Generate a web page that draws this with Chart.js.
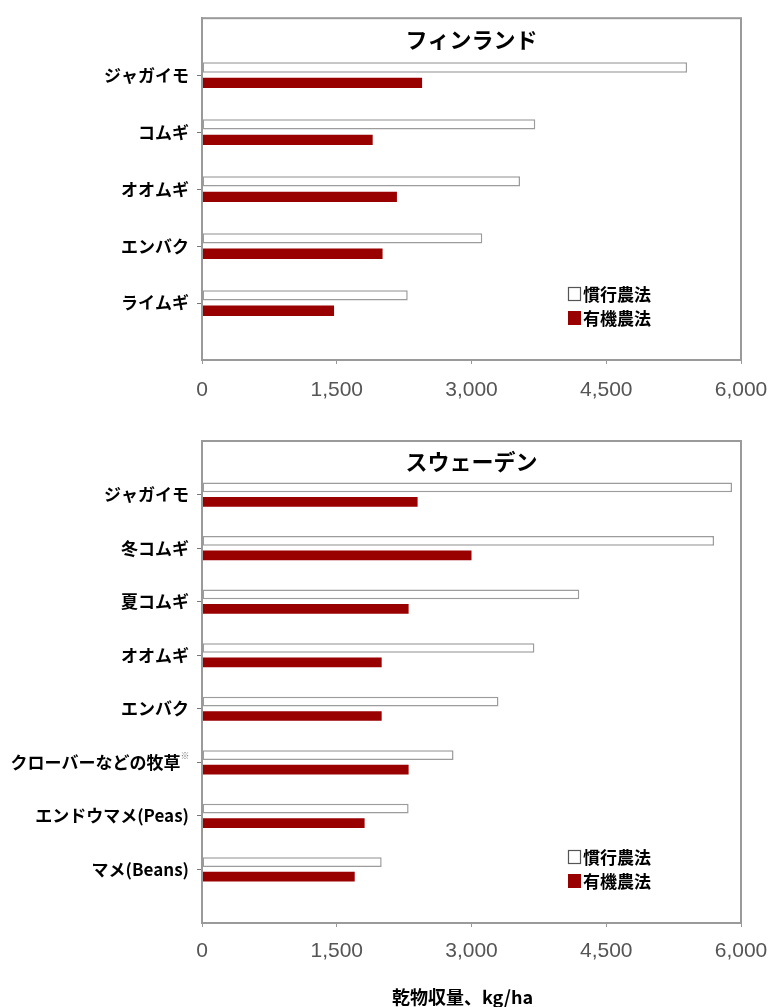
<!DOCTYPE html>
<html lang="ja">
<head>
<meta charset="utf-8">
<title>慣行農法と有機農法の収量</title>
<script src="https://cdn.jsdelivr.net/npm/chart.js@4.4.1/dist/chart.umd.min.js"></script>
<style>
  html, body { margin: 0; padding: 0; background: #fff; }
  canvas { display: block; }
</style>
</head>
<body>
<canvas id="finland" width="771" height="420"></canvas>
<canvas id="sweden" width="771" height="587"></canvas>
<script>
const seriesNames = ['慣行農法', '有機農法'];

const finlandCrops = ['ジャガイモ', 'コムギ', 'オオムギ', 'エンバク', 'ライムギ'];
const finlandConventional = [5400, 3710, 3540, 3120, 2290];
const finlandOrganic = [2450, 1900, 2170, 2010, 1470];

const swedenCrops = ['ジャガイモ', '冬コムギ', '夏コムギ', 'オオムギ', 'エンバク', 'クローバーなどの牧草', 'エンドウマメ(Peas)', 'マメ(Beans)'];
const swedenConventional = [5900, 5700, 4200, 3700, 3300, 2800, 2300, 2000];
const swedenOrganic = [2400, 3000, 2300, 2000, 2000, 2300, 1810, 1700];
const notedCrop = 'クローバーなどの牧草';

const xTicks = [0, 1500, 3000, 4500, 6000];
const axisTitle = '乾物収量、kg/ha';

const jpFont = '"Noto Sans CJK JP", "Noto Sans", sans-serif';

// one empty slot above and below the crops
function padded(arr) { return [null, ...arr, null]; }

const panel = {
  id: 'panel',
  afterDatasetsDraw(chart) {
    const { ctx, chartArea: a } = chart;
    ctx.save();
    ctx.strokeStyle = '#9a9a9a';
    ctx.lineWidth = 2;
    ctx.strokeRect(a.left, a.top, a.right - a.left, a.bottom - a.top);
    ctx.restore();
  },
  afterDraw(chart, args, o) {
    const { ctx, chartArea: a } = chart;
    ctx.save();
    ctx.fillStyle = '#000';
    ctx.textAlign = 'center';
    ctx.textBaseline = 'middle';
    ctx.font = 'bold 22px ' + jpFont;
    ctx.fillText(o.title, (a.left + a.right) / 2, a.top + 21);

    // legend inside the plot, lower right
    const lx = a.right - 173;
    const rows = [a.bottom - 66, a.bottom - 42];
    ctx.font = 'bold 17px ' + jpFont;
    ctx.textAlign = 'left';
    chart.data.datasets.forEach((ds, i) => {
      const y = rows[i];
      ctx.fillStyle = ds.backgroundColor;
      ctx.fillRect(lx, y - 7, 13, 14);
      if (ds.borderWidth) {
        ctx.strokeStyle = '#555';
        ctx.lineWidth = 1.2;
        ctx.strokeRect(lx + 0.5, y - 6.5, 12, 13);
      }
      ctx.fillStyle = '#000';
      ctx.fillText(ds.label, lx + 15, y + 1);
    });

    if (o.note) {
      const idx = chart.data.labels.indexOf(o.note);
      const y = chart.scales.y.getPixelForValue(idx);
      ctx.font = '9px ' + jpFont;
      ctx.fillStyle = '#777';
      ctx.textAlign = 'center';
      ctx.fillText('※', a.left - 17, y - 7);
    }

    if (o.axisTitle) {
      ctx.font = 'bold 18px ' + jpFont;
      ctx.textAlign = 'center';
      ctx.fillStyle = '#000';
      ctx.fillText(o.axisTitle, (a.left + a.right) / 2 - 9, chart.height - 10);
    }
    ctx.restore();
  }
};

function makeChart(id, title, crops, conventional, organic, extra) {
  const canvas = document.getElementById(id);
  return new Chart(canvas, {
    type: 'bar',
    data: {
      labels: padded(crops),
      datasets: [
        {
          label: seriesNames[0],
          data: padded(conventional),
          backgroundColor: '#ffffff',
          borderColor: '#9c9c9c',
          borderWidth: 1.5,
          borderSkipped: false
        },
        {
          label: seriesNames[1],
          data: padded(organic),
          backgroundColor: '#990000',
          borderWidth: 0
        }
      ]
    },
    options: {
      indexAxis: 'y',
      responsive: false,
      animation: false,
      devicePixelRatio: 1,
      categoryPercentage: 0.54,
      barPercentage: 0.67,
      layout: { padding: { top: extra.top, right: 30, left: 0, bottom: 0 } },
      scales: {
        x: {
          min: 0,
          max: 6000,
          afterBuildTicks: s => { s.ticks = xTicks.map(v => ({ value: v })); },
          // the last label may hang into the right margin
          afterFit: s => { s.height = extra.axisHeight; s.paddingRight = 0; },
          grid: { drawOnChartArea: false, drawTicks: true, tickLength: 4, color: '#999' },
          border: { color: '#9a9a9a', width: 2 },
          ticks: {
            padding: extra.tickPad,
            color: '#555',
            font: { family: '"Liberation Sans", Arial, sans-serif', size: 21 }
          }
        },
        y: {
          offset: false,
          afterFit: s => { s.width = 202; },
          grid: { offset: false, drawOnChartArea: false, drawTicks: true, tickLength: 5, color: '#777' },
          border: { color: '#9a9a9a', width: 2 },
          ticks: {
            padding: 8,
            color: '#000',
            font: { family: jpFont, size: 17, weight: 'bold' },
            callback(value) {
              const lbl = this.getLabelForValue(value);
              return lbl === notedCrop ? lbl + '\u2002' : lbl;
            }
          }
        }
      },
      plugins: {
        legend: { display: false },
        tooltip: { enabled: false },
        panel: { title, note: extra.note, axisTitle: extra.axisTitle }
      }
    },
    plugins: [panel]
  });
}

makeChart('finland', 'フィンランド', finlandCrops, finlandConventional, finlandOrganic,
  { top: 18, axisHeight: 60, tickPad: 14 });
makeChart('sweden', 'スウェーデン', swedenCrops, swedenConventional, swedenOrganic,
  { top: 21, axisHeight: 84, tickPad: 12, note: notedCrop, axisTitle: axisTitle });
</script>
</body>
</html>
